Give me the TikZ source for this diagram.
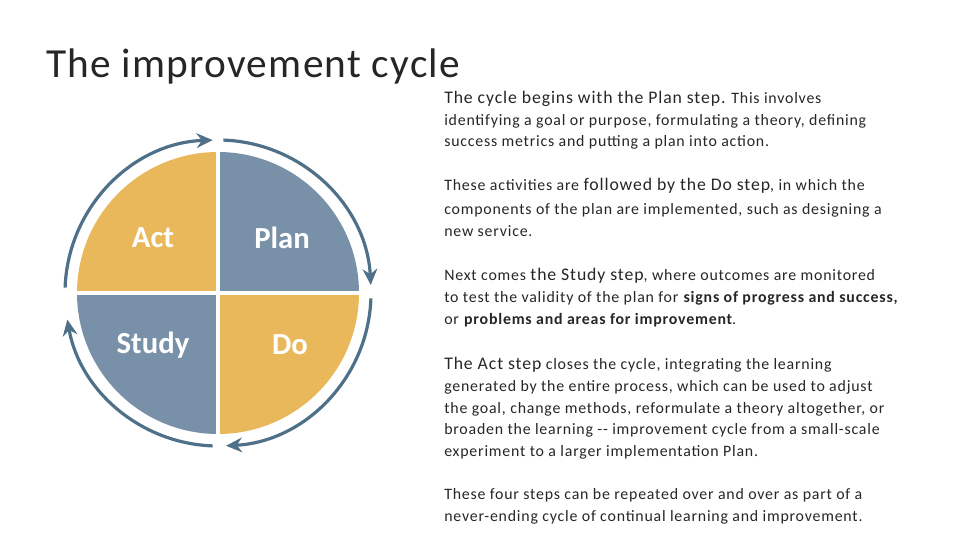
\documentclass[tikz,border=0pt]{standalone}
\usepackage{fontspec}
\setmainfont{Carlito}
\newfontfamily\bodyfont[LetterSpace=5]{Carlito}
\newfontfamily\titlefont[LetterSpace=3]{Carlito}
\usetikzlibrary{arrows.meta}
\definecolor{qor}{HTML}{E9B85B}
\definecolor{qbl}{HTML}{7990A9}
\definecolor{ring}{HTML}{4F7089}
\definecolor{txt}{HTML}{262626}
\tikzset{
  quadlab/.style={text=white,font=\bfseries\fontsize{23}{26}\selectfont},
  ringarc/.style={draw=ring,line width=2.4pt,-{Stealth[length=12pt,width=11pt]}},
  bodyline/.style={anchor=west,inner sep=0pt,text=txt,font=\bodyfont\fontsize{11.9}{13}\selectfont},
}
\newcommand{\bigphrase}[1]{{\fontsize{13.3}{13}\selectfont #1}}
\begin{document}
\begin{tikzpicture}[x=0.75pt,y=0.75pt]
\useasboundingbox (0,0) rectangle (960,540);
% quadrants
\fill[qbl] (218,247) -- ++(90:141) arc (90:0:141) -- cycle;
\fill[qor] (218,247) -- ++(0:141) arc (0:-90:141) -- cycle;
\fill[qbl] (218,247) -- ++(-90:141) arc (-90:-180:141) -- cycle;
\fill[qor] (218,247) -- ++(180:141) arc (180:90:141) -- cycle;
\draw[white,line width=3.5pt] (218,104) -- (218,390) (75,247) -- (361,247);
\node[quadlab] (act) at (153,302) {Act};
\node[quadlab] (plan) at (282,302) {Plan};
\node[quadlab] (study) at (153,195) {Study};
\node[quadlab] (do) at (290,195) {Do};
% ring arrows
\draw[ringarc] (218,247) ++(178:153) arc (178:92:153);
\draw[ringarc] (218,247) ++(88:153) arc (88:3:153);
\draw[ringarc] (218,247) ++(-2:153) arc (-2:-87:153);
\draw[ringarc] (218,247) ++(-92:153) arc (-92:-170:153);
% title
\node[anchor=west,inner sep=0pt,text=txt,font=\titlefont\fontsize{31}{34}\selectfont] (title) at (46,474) {The improvement cycle};
% body
\node[bodyline] (l1) at (444,441) {\bigphrase{The cycle begins with the Plan step.} This involves};
\node[bodyline] (l2) at (444,419) {identifying a goal or purpose, formulating a theory, defining};
\node[bodyline] (l3) at (444,398) {success metrics and putting a plan into action.};
\node[bodyline] (l4) at (444,354) {These activities are \bigphrase{followed by the Do step}, in which the};
\node[bodyline] (l5) at (444,330) {components of the plan are implemented, such as designing a};
\node[bodyline] (l6) at (444,309) {new service.};
\node[bodyline] (l7) at (444,264) {Next comes \bigphrase{the Study step}, where outcomes are monitored};
\node[bodyline] (l8) at (444,242) {to test the validity of the plan for \textbf{signs of progress and success,}};
\node[bodyline] (l9) at (444,220) {or \textbf{problems and areas for improvement}.};
\node[bodyline] (l10) at (444,175) {\bigphrase{The Act step} closes the cycle, integrating the learning};
\node[bodyline] (l11) at (444,153) {generated by the entire process, which can be used to adjust};
\node[bodyline] (l12) at (444,131) {the goal, change methods, reformulate a theory altogether, or};
\node[bodyline] (l13) at (444,110) {broaden the learning -- improvement cycle from a small-scale};
\node[bodyline] (l14) at (444,88) {experiment to a larger implementation Plan.};
\node[bodyline] (l15) at (444,45) {These four steps can be repeated over and over as part of a};
\node[bodyline] (l16) at (444,23) {never-ending cycle of continual learning and improvement.};
\end{tikzpicture}
\end{document}
